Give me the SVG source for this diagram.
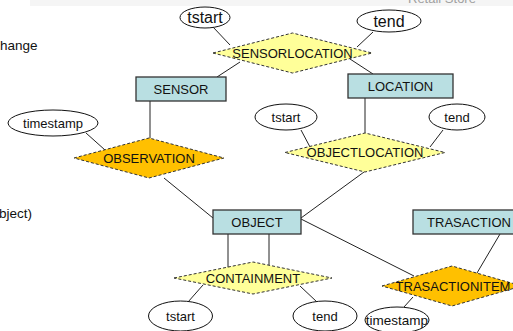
<svg xmlns="http://www.w3.org/2000/svg" width="513" height="331" viewBox="0 0 513 331">
<style>
text{font-family:"Liberation Sans",Arial,sans-serif;fill:#111;}
.t{font-size:13px;text-anchor:middle;}
.big{font-size:16px;text-anchor:middle;}
.ent{fill:#B9DFE2;stroke:#333;stroke-width:1.3;}
.rel{fill:#FFFF99;stroke:#333;stroke-width:1;stroke-dasharray:3,2;}
.wrel{fill:#FFC000;stroke:#333;stroke-width:1;stroke-dasharray:3,2;}
.att{fill:#fff;stroke:#111;stroke-width:1;}
.ln{stroke:#222;stroke-width:1;fill:none;}
</style>
<rect x="0" y="0" width="513" height="331" fill="#fff"/>
<rect x="30" y="0" width="483" height="6" fill="#f5f5f5"/>
<text x="408" y="3" style="font-size:13px;fill:#a0a0a0">Retail Store</text>
<text x="0" y="50" style="font-size:13.5px">hange</text>
<text x="-1" y="218" style="font-size:13.5px">bject)</text>

<g id="connectors">
<line class="ln" x1="213" y1="27" x2="230" y2="45"/>
<line class="ln" x1="373" y1="32" x2="357" y2="47"/>
<line class="ln" x1="217" y1="77" x2="240" y2="62"/>
<line class="ln" x1="350" y1="59" x2="373" y2="74"/>
<line class="ln" x1="150" y1="101" x2="150" y2="138"/>
<line class="ln" x1="86" y1="133" x2="105" y2="150"/>
<line class="ln" x1="164" y1="178" x2="213" y2="218"/>
<line class="ln" x1="365" y1="98" x2="365" y2="133"/>
<line class="ln" x1="301" y1="130" x2="310" y2="147"/>
<line class="ln" x1="443" y1="130" x2="430" y2="147"/>
<line class="ln" x1="301" y1="218" x2="364" y2="172"/>
<line class="ln" x1="301" y1="219" x2="414" y2="276"/>
<line class="ln" x1="500" y1="234" x2="477" y2="273"/>
<line class="ln" x1="413" y1="297" x2="404" y2="307"/>
<line class="ln" x1="228" y1="234" x2="228" y2="268"/>
<line class="ln" x1="269" y1="234" x2="269" y2="265"/>
<line class="ln" x1="203" y1="285" x2="188" y2="302"/>
<line class="ln" x1="300" y1="286" x2="317" y2="302"/>
</g>

<g id="tstart1"><ellipse class="att" cx="205" cy="17.5" rx="25" ry="10.5"/><text class="big" x="205" y="23">tstart</text></g>
<g id="tend1"><ellipse class="att" cx="389" cy="21" rx="32" ry="11"/><text class="big" x="389" y="27">tend</text></g>
<g id="sensorlocation"><polygon class="rel" points="213,53 292.5,33 372,53 292.5,73"/><text class="t" x="292.5" y="57.5">SENSORLOCATION</text></g>
<g id="sensor"><rect class="ent" x="136" y="77" width="90" height="24"/><text class="t" x="181" y="93.5">SENSOR</text></g>
<g id="location"><rect class="ent" x="348" y="74" width="105" height="24"/><text class="t" x="400.5" y="90.5">LOCATION</text></g>
<g id="timestamp1"><ellipse class="att" cx="53" cy="123" rx="45" ry="13"/><text class="t" x="53" y="127.5">timestamp</text></g>
<g id="observation"><polygon class="wrel" points="74,158 149,138 224,158 149,178"/><text class="t" x="149" y="162.5">OBSERVATION</text></g>
<g id="tstart2"><ellipse class="att" cx="286" cy="117" rx="31" ry="13"/><text class="t" x="286" y="121.5">tstart</text></g>
<g id="tend2"><ellipse class="att" cx="457" cy="117" rx="28" ry="13"/><text class="t" x="457" y="121.5">tend</text></g>
<g id="objectlocation"><polygon class="rel" points="285,152.5 365,133 445,152.5 365,172"/><text class="t" x="365" y="157">OBJECTLOCATION</text></g>
<g id="object"><rect class="ent" x="213" y="210" width="88" height="24"/><text class="t" x="257" y="226.5">OBJECT</text></g>
<g id="trasaction"><rect class="ent" x="413" y="210" width="112" height="24"/><text class="t" x="469" y="226.5">TRASACTION</text></g>
<g id="containment"><polygon class="rel" points="174,278 253,262 332,278 253,294"/><text class="t" x="253" y="282.5">CONTAINMENT</text></g>
<g id="trasactionitem"><polygon class="wrel" points="382,286 452,266 522,286 452,306"/><text class="t" x="453" y="290.5">TRASACTIONITEM</text></g>
<g id="tstart3"><ellipse class="att" cx="180.5" cy="316" rx="32" ry="15"/><text class="t" x="180.5" y="320.5">tstart</text></g>
<g id="tend3"><ellipse class="att" cx="325" cy="316" rx="32" ry="15"/><text class="t" x="325" y="320.5">tend</text></g>
<g id="timestamp2"><ellipse class="att" cx="397" cy="320" rx="32" ry="13"/><text class="t" x="397" y="325" style="font-size:13.5px">timestamp</text></g>
</svg>
